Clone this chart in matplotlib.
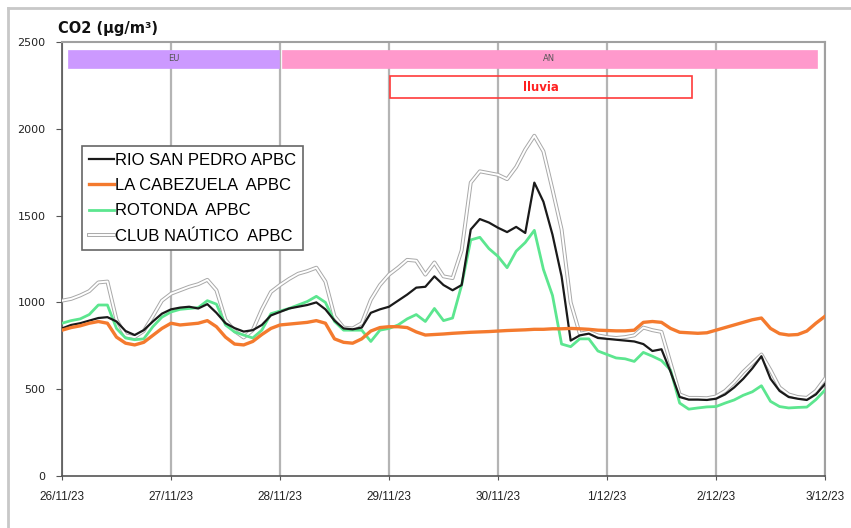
import matplotlib
matplotlib.use("Agg")
import matplotlib.pyplot as plt
import matplotlib.dates as mdates
import matplotlib.patheffects as pe
from matplotlib.patches import Rectangle
from matplotlib.lines import Line2D
import pandas as pd

# ---- data (2-hourly, 26/11/23 00:00 -> 3/12/23 00:00) ----
start = "2023-11-26 00:00"
step_hours = 2

rio_san_pedro = [850, 870, 880, 895, 910, 915, 890, 835, 812, 840,
                 890, 935, 960, 970, 975, 965, 990, 940, 880, 852,
                 832, 840, 870, 925, 945, 965, 975, 985, 1000, 960,
                 895, 850, 845, 855, 940, 960, 975, 1010, 1045, 1085,
                 1090, 1150, 1100, 1070, 1100, 1420, 1480, 1460, 1430, 1405,
                 1435, 1400, 1690, 1580, 1390, 1150, 780, 810, 820, 795,
                 790, 785, 780, 775, 760, 720, 730, 600, 455, 440,
                 440, 438, 445, 470, 510, 560, 620, 690, 560, 490,
                 455, 445, 438, 470, 530]

la_cabezuela = [840, 855, 865, 880, 890, 880, 800, 765, 755, 770,
                810, 850, 880, 870, 875, 880, 895, 860, 800, 760,
                755, 775, 815, 850, 870, 875, 880, 885, 895, 880,
                790, 770, 765, 790, 835, 855, 860, 860, 855, 830,
                812, 815, 818, 822, 825, 828, 830, 832, 835, 838,
                840, 842, 845, 845, 848, 848, 850, 848, 845, 840,
                838, 836, 836, 840, 885, 890, 885, 850, 828, 825,
                822, 825, 840, 855, 870, 885, 900, 910, 850, 820,
                812, 815, 835, 880, 920]

rotonda = [880, 895, 905, 930, 985, 985, 850, 795, 785, 790,
           860, 915, 945, 960, 965, 970, 1010, 990, 870, 830,
           812, 795, 840, 935, 950, 965, 985, 1005, 1035, 1000,
           890, 840, 840, 840, 775, 840, 850, 870, 905, 930,
           890, 965, 895, 910, 1100, 1360, 1375, 1310, 1265, 1200,
           1295, 1345, 1415, 1190, 1040, 760, 745, 790, 790, 720,
           700, 680, 675, 660, 712, 690, 665, 610, 420, 385,
           392, 398, 400, 420, 438, 465, 485, 520, 430, 400,
           392, 395, 397, 440, 495]

club_nautico = [1010, 1020, 1040, 1065, 1115, 1120, 900, 810, 800, 835,
                920, 1010, 1050, 1070, 1090, 1105, 1130, 1070, 900, 835,
                798, 840, 960, 1060, 1100, 1135, 1165, 1180, 1200, 1120,
                920, 855, 850, 880, 1015, 1100, 1160, 1200, 1245, 1240,
                1160, 1230, 1150, 1140, 1300, 1690, 1755, 1745, 1735, 1710,
                1780, 1880, 1960, 1870, 1650, 1420, 1000, 820, 830, 810,
                800, 795, 800, 810, 855, 840, 830, 650, 470, 450,
                450, 448, 458, 490, 540, 600, 650, 700, 610, 510,
                470, 455, 450, 490, 560]

series_names = ["RIO SAN PEDRO APBC", "LA CABEZUELA  APBC", "ROTONDA  APBC", "CLUB NAÚTICO  APBC"]
y_ticks = [0, 500, 1000, 1500, 2000, 2500]
x_tick_dates = ["2023-11-26", "2023-11-27", "2023-11-28", "2023-11-29",
                "2023-11-30", "2023-12-01", "2023-12-02", "2023-12-03"]
x_tick_labels = ["26/11/23", "27/11/23", "28/11/23", "29/11/23",
                 "30/11/23", "1/12/23", "2/12/23", "3/12/23"]

# period bands
eu_period = ("2023-11-26 01:20", "2023-11-27 23:50")
an_period = ("2023-11-28 00:25", "2023-12-02 22:15")
lluvia_period = ("2023-11-29 00:15", "2023-12-01 18:45")

times = pd.date_range(start, periods=len(rio_san_pedro), freq=f"{step_hours}h")

# ---- figure ----
fig = plt.figure(figsize=(8.51, 5.28), dpi=100)
ax = fig.add_axes([62 / 851, 52 / 528, 763 / 851, 434 / 528])

ax.set_xlim(pd.Timestamp(x_tick_dates[0]), pd.Timestamp(x_tick_dates[-1]))
ax.set_ylim(0, 2500)

# vertical grid
ax.set_xticks([pd.Timestamp(d) for d in x_tick_dates])
ax.set_xticklabels(x_tick_labels, fontfamily="Liberation Sans", fontsize=8.5)
ax.set_yticks(y_ticks)
ax.set_yticklabels([str(v) for v in y_ticks], fontfamily="DejaVu Sans", fontsize=8)
ax.grid(axis="x", color="#b4b4b4", linewidth=1.6, zorder=0)
ax.set_axisbelow(True)
ax.tick_params(axis="y", length=4, pad=8, color="#555555", labelcolor="#222222")
ax.tick_params(axis="x", length=3, pad=8, color="#555555", labelcolor="#222222")

for s in ["left", "bottom"]:
    ax.spines[s].set_color("#555555")
    ax.spines[s].set_linewidth(1.2)
for s in ["top", "right"]:
    ax.spines[s].set_color("#a0a0a0")
    ax.spines[s].set_linewidth(1.5)

# bands
def band(period, y0, y1, fc, ec, lw, label, tcolor, tsize, weight, z):
    x0 = mdates.date2num(pd.Timestamp(period[0]))
    x1 = mdates.date2num(pd.Timestamp(period[1]))
    ax.add_patch(Rectangle((x0, y0), x1 - x0, y1 - y0, facecolor=fc,
                           edgecolor=ec, linewidth=lw, zorder=z))
    ax.text((x0 + x1) / 2, (y0 + y1) / 2, label, ha="center", va="center",
            color=tcolor, fontsize=tsize, fontweight=weight,
            fontfamily="DejaVu Sans", zorder=z + 0.1)

band(eu_period, 2350, 2455, "#cc99ff", "#cc99ff", 0.5, "EU", "#555555", 6, "normal", 2)
band(an_period, 2350, 2455, "#ff99cc", "#ff99cc", 0.5, "AN", "#555555", 6, "normal", 2)
band(lluvia_period, 2175, 2305, "none", "#ff3b3b", 1.2, "lluvia", "#ff2020", 8.5, "bold", 2)

# series
ax.plot(times, club_nautico, color="white", linewidth=1.4, zorder=3,
        path_effects=[pe.Stroke(linewidth=2.8, foreground="#a8a8a8"), pe.Normal()],
        label=series_names[3])
ax.plot(times, rotonda, color="#5ce68f", linewidth=2.0, zorder=4, label=series_names[2])
ax.plot(times, rio_san_pedro, color="#1a1a1a", linewidth=1.6, zorder=5, label=series_names[0])
ax.plot(times, la_cabezuela, color="#f47a2e", linewidth=2.4, zorder=6, label=series_names[1])

handles, labels = ax.get_legend_handles_labels()
order = [labels.index(n) for n in series_names]
leg = ax.legend([handles[i] for i in order], [labels[i] for i in order],
                loc="upper left", bbox_to_anchor=(82 / 851, 1 - 146 / 528),
                bbox_transform=fig.transFigure, borderaxespad=0,
                prop={"family": "Liberation Sans", "size": 12},
                handlelength=1.5, handletextpad=0.1, labelspacing=0.62,
                borderpad=0.4, fancybox=False, framealpha=1,
                edgecolor="#666666")
leg.get_frame().set_linewidth(1.2)
leg.set_zorder(10)

# title
fig.text(58 / 851, 1 - 29 / 528, "CO2 (µg/m³)", fontsize=10.5, fontweight="bold",
         fontfamily="DejaVu Sans", ha="left", va="center", color="#111111")

# outer frame lines
fig.add_artist(Line2D([8 / 851, 8 / 851], [0, 1 - 8 / 528], transform=fig.transFigure,
                      color="#c8c8c8", linewidth=2))
fig.add_artist(Line2D([8 / 851, 1], [1 - 8 / 528, 1 - 8 / 528], transform=fig.transFigure,
                      color="#c8c8c8", linewidth=2))

fig.savefig("out.png", dpi=100)
